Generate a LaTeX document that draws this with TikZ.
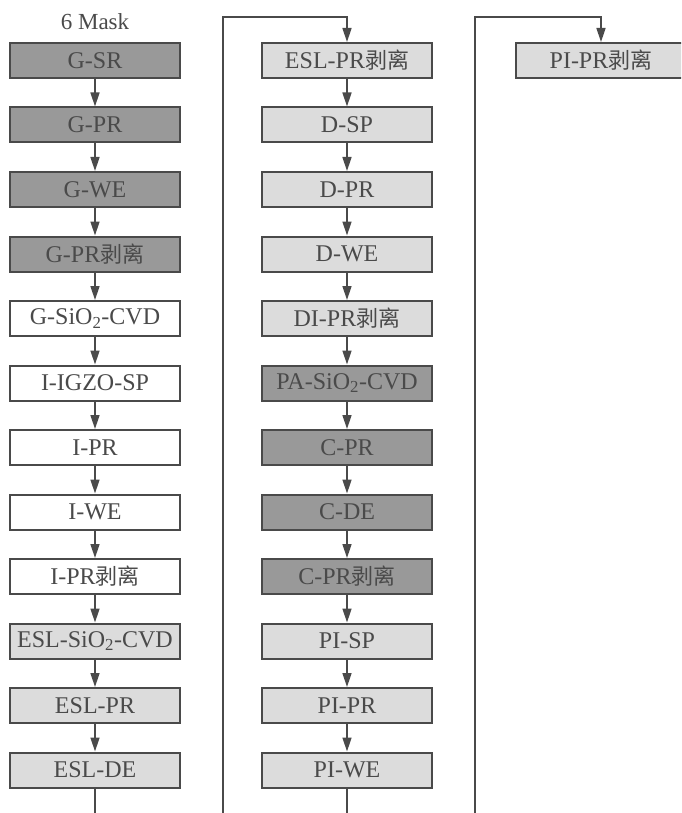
\documentclass[tikz,border=0pt]{standalone}
\usepackage{fontspec}
\setmainfont{Liberation Serif}
\newfontfamily\cjk{Noto Sans CJK SC}
\usetikzlibrary{arrows.meta}
\definecolor{darkbox}{HTML}{999999}
\definecolor{lightbox}{HTML}{DCDCDC}
\definecolor{edge}{HTML}{4A4A4A}
\definecolor{txt}{HTML}{4A4A4A}
\newcommand{\bl}{{\cjk\fontsize{22}{24}\selectfont 剥离}}
\begin{document}
\begin{tikzpicture}[x=1pt,y=-1pt,
  box/.style={draw=edge, line width=2pt, minimum width=170pt, minimum height=35pt, inner sep=0pt, font=\fontsize{24}{26}\selectfont, text=txt},
  dk/.style={box, fill=darkbox},
  lt/.style={box, fill=lightbox},
  wt/.style={box, fill=white},
  link/.style={draw=edge, line width=1.5pt, -{Triangle[length=14pt,width=9pt]}},
  wire/.style={draw=edge, line width=1.5pt}]
\useasboundingbox (0,0) rectangle (681,813);
\clip (0,0) rectangle (681,813);
\node[font=\fontsize{23}{25}\selectfont, text=txt] (title) at (95,22) {6 Mask};
% column 1
\node[dk] (a1)  at (95,60.5)  {G-SR};
\node[dk] (a2)  at (95,125)   {G-PR};
\node[dk] (a3)  at (95,189.5) {G-WE};
\node[dk] (a4)  at (95,254)   {G-PR\bl};
\node[wt] (a5)  at (95,318.5) {G-SiO\textsubscript{2}-CVD};
\node[wt] (a6)  at (95,383)   {I-IGZO-SP};
\node[wt] (a7)  at (95,447.5) {I-PR};
\node[wt] (a8)  at (95,512)   {I-WE};
\node[wt] (a9)  at (95,576.5) {I-PR\bl};
\node[lt] (a10) at (95,641)   {ESL-SiO\textsubscript{2}-CVD};
\node[lt] (a11) at (95,705.5) {ESL-PR};
\node[lt] (a12) at (95,770)   {ESL-DE};
% column 2
\node[lt] (b1)  at (347,60.5)  {ESL-PR\bl};
\node[lt] (b2)  at (347,125)   {D-SP};
\node[lt] (b3)  at (347,189.5) {D-PR};
\node[lt] (b4)  at (347,254)   {D-WE};
\node[lt] (b5)  at (347,318.5) {DI-PR\bl};
\node[dk] (b6)  at (347,383)   {PA-SiO\textsubscript{2}-CVD};
\node[dk] (b7)  at (347,447.5) {C-PR};
\node[dk] (b8)  at (347,512)   {C-DE};
\node[dk] (b9)  at (347,576.5) {C-PR\bl};
\node[lt] (b10) at (347,641)   {PI-SP};
\node[lt] (b11) at (347,705.5) {PI-PR};
\node[lt] (b12) at (347,770)   {PI-WE};
% column 3
\node[lt] (c1)  at (601,60.5)  {PI-PR\bl};
% connectors
\foreach \i [evaluate=\i as \j using int(\i+1)] in {1,...,11} {
  \draw[link] (a\i) -- (a\j);
  \draw[link] (b\i) -- (b\j);
}
\coordinate (aend) at (95,813);
\coordinate (bend) at (347,813);
\coordinate (l1b) at (223,813);
\coordinate (l1t) at (223,17);
\coordinate (l2b) at (475,813);
\coordinate (l2t) at (475,17);
\draw[wire] (a12) -- (aend);
\draw[wire] (b12) -- (bend);
\draw[link] (l1b) -- (l1t) -| (b1);
\draw[link] (l2b) -- (l2t) -| (c1);
\end{tikzpicture}
\end{document}
